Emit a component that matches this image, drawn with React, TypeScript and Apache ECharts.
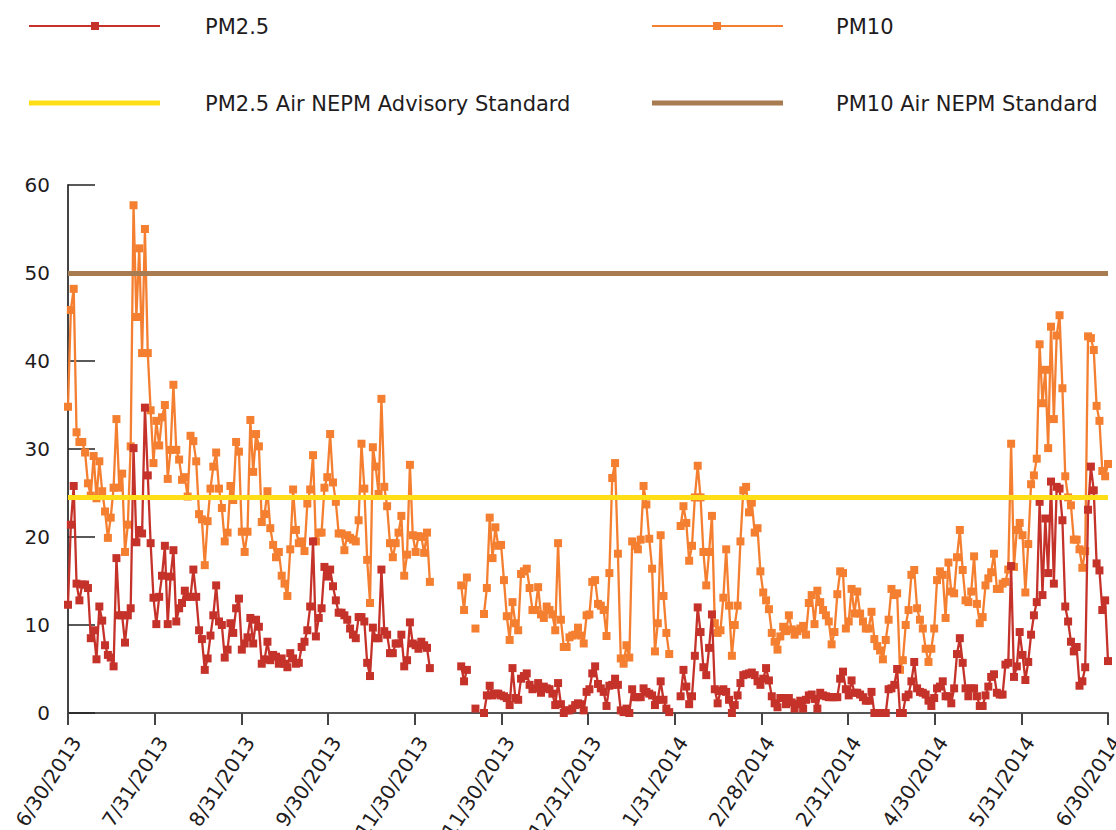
import React, { useEffect, useRef } from "react";
import * as echarts from "echarts";

const tickLabels = [
  "6/30/2013", "7/31/2013", "8/31/2013", "9/30/2013", "11/30/2013", "11/30/2013",
  "12/31/2013", "1/31/2014", "2/28/2014", "2/31/2014", "4/30/2014", "5/31/2014", "6/30/2014",
];

// Daily PM2.5, 30 Jun 2013 - 4 Nov 2013
const pm25Part1 = [
  12.3, 21.4, 25.8, 14.7, 12.8, 14.6, 14.6, 14.2, 8.5, 9.4, 6.1, 12.1, 10.5, 7.7, 6.6, 6.3, 5.3, 17.6, 11.1, 11.1, 8, 11.1, 11.9,
  30.1, 19.4, 20.8, 20.4, 34.7, 27,
  19.3, 13.1, 10.1, 13.2, 15.6, 19, 10.1, 15.5, 18.5, 10.4, 11.9, 12.5, 13.9, 13.2, 13.2, 16.3, 13.2, 9.4, 8.4, 4.9,
  6.2, 8.8, 11.1, 14.5, 10.4, 10, 6.3, 7.2, 10.2, 9.1, 11.9, 13, 7.2, 7.9, 8.6, 10.8, 7.9, 10.6, 9.8, 5.6,
  6.1, 8.1, 6, 6.6, 6.4, 5.6, 6.2, 5.6, 5.2, 6.8, 6.2, 5.6, 5.7, 7.5, 8.1, 9.4, 12.1, 19.5,
  8.7, 10.8, 11.9, 16.6, 15.5, 16.3, 14.4, 12.8, 11.4, 11.4, 11.1, 10.6, 9.6, 8.9, 8.5, 10.9, 10.9, 10.4, 5.7, 4.2,
  9.7, 8.5, 8.5, 16.3, 9.3, 8.9, 6.8, 6.8, 7.9, 7.9, 8.9, 5.3,
  6, 10.3, 7.9, 7.7, 7.3, 8.1, 7.7, 7.4, 5.1,
];
const pm25Gap = [null, null, null, null, null, null, null, null, null, null];
// Daily PM2.5, 15 Nov 2013 - 30 Jun 2014
const pm25Part2 = [
  5.3, 3.6, 4.9, null, null, 0.5, null, null,
  0, 2, 3.1, 2, 2.2, 2.2, 2, 1.9, 1.7, 0.9, 5.1, 1.7, 1.5, 3.9, 4.2, 4.5, 3.2, 2.7, 2.8, 3.4,
  2.3, 3, 2.8, 2.7, 2.2, 0.9, 3.4, 1, 0, 0.3, 0.3, 0.5, 0.9, 1.1, 1, 0.3, 2.4, 2.7, 4.5, 5.3,
  3.3, 2.8, 2.4, 0.8, 3.1, 3.2, 3.9, 3.2, 0.3, 0.1, 0.5, 0, 2.7,
  1.8, 1.8, 1.8, 2.8, 2.4, 2.2, 2, 0.9, 1.5, 3.6, 1.5, 0.5, 0.1,
  null, null, null,
  1.9, 4.9, 3, 1, 1.9, 6.5, 12, 9.2, 5.2, 4.3, 7.4, 11.2, 2.7, 1.1, 2.5, 2.7, 2.4, 1.5, 0, 0.9,
  2, 3.4, 4.3, 4.4, 4.5, 4.6, 4.3, 3.6, 3.2, 3.9, 5.1, 3.7, 1.9, 1.1, 0.65, 1.7, 1.7, 1, 1.7, 1.2,
  0.5, 1, 1.4, 0.5, 1.5, 2, 2.1, 1.6, 0.5, 2.3, 2, 1.9, 1.8, 1.8, 1.8, 1.8, 3.9, 4.7, 2.7, 2,
  3.7, 2.3, 2.3, 2.1, 1.8, 1.4, 1.4, 2.4, 0, 0, 0, 0, 0, 2.7, 2.8, 3.2, 5, 0, 0, 1.8,
  2.1, 3.6, 5.8, 2.8, 2.4, 2.3, 2.1, 1.4, 0.8, 1.7, 2.8, 3, 3.6, 1.9, 1.9, 1.1, 2.8, 6.7, 8.5, 5.7,
  2.8, 1.9, 2.8, 2.8, 1.9, 0.8, 0.8, 2, 3, 4.1, 4.4, 2.3, 2.1, 2.1, 5.5, 5.7, 16.7, 4.1, 5.3, 9.2,
  6.6, 3.75, 5.8, 8.9, 11.1, 12.6, 24, 13.4, 22.1, 15.9, 26.3, 14.7, 25.7, 25.5, 21.9, 12.1, 10.4, 8.1, 7, 7.5,
  3.1, 3.6, 5.2, 23.1, 28, 25.3, 17, 16.2, 11.7, 12.8, 5.9,
];

// Daily PM10, 30 Jun 2013 - 4 Nov 2013
const pm10Part1 = [
  34.8, 45.8, 48.2, 31.9, 30.8, 30.8, 29.6, 26.1, 24.7, 29.2, 24.4, 28.6, 25.2, 22.9, 19.9, 22.2, 25.6, 33.4, 25.6, 27.2, 18.3, 21.4, 30.3,
  57.7, 45, 52.8, 40.9, 55, 40.9,
  34.4, 28.4, 33.2, 30.4, 33.6, 35, 26.6, 29.9, 37.3, 29.9, 28.8, 26.5, 26.8, 24.6, 31.5, 30.9, 28.6, 22.6, 22, 16.8,
  21.8, 25.5, 28, 29.6, 25.5, 23.3, 19.5, 20.5, 25.8, 24.2, 30.8, 29.7, 20.6, 18.3, 20.6, 33.3, 27.4, 31.7, 30.3, 21.7,
  22.6, 25.2, 21, 19.1, 17.7, 18.3, 15.6, 14.7, 13.3, 18.6, 25.4, 20.8, 19.3, 19.5, 18.4, 23.8, 25.4, 29.3,
  19.5, 20.5, 20.5, 25.6, 26.8, 31.7, 26.2, 24, 20.4, 20.4, 18.5, 20.2, 19.9, 19.7, 19.5, 21.9, 30.6, 25.5, 17.4, 12.5,
  30.2, 28, 24.9, 35.7, 25.7, 23.5, 19.3, 17.7, 19.3, 20.5, 22.4, 15.6,
  18, 28.2, 20.2, 18.3, 20.1, 20, 18.2, 20.5, 14.9,
];
const pm10Gap = [null, null, null, null, null, null, null, null, null, null];
// Daily PM10, 15 Nov 2013 - 30 Jun 2014
const pm10Part2 = [
  14.5, 11.7, 15.4, null, null, 9.6, null, null,
  11.25, 14.2, 22.2, 17.6, 21.1, 19, 19.1, 15.1, 11, 8.3, 12.6, 10.2, 9.4, 15.8, 16.1, 16.4, 14.2, 11.7, 11.7, 14.3,
  11.2, 10.8, 12.1, 11.7, 11.2, 9.4, 19.3, 10.6, 7.5, 7.5, 8.6, 8.8, 8.9, 9.7, 8.8, 7.9, 11.1, 11.2, 14.9, 15.1,
  12.4, 12.2, 11.7, 8.75, 15.9, 26.7, 28.4, 18.1, 6.2, 5.6, 7.7, 6.3, 19.5,
  19, 18.6, 19.7, 25.8, 23.7, 19.8, 16.4, 7, 10.2, 20.2, 13.3, 9.1, 6.7,
  null, null, null,
  21.25, 23.5, 21.6, 17.3, 19, 24.5, 28.1, 24.5, 18.3, 14.5, 18.3, 22.4, 10.2, 9.1, 9.4, 13.1, 18.6, 12.2, 6.5, 10,
  12.2, 19.5, 25.3, 25.7, 22.8, 23.9, 20.5, 21, 16.1, 13.7, 12.8, 11.8, 9.1, 8.1, 7.2, 8.7, 9.8, 9.3, 11.1, 9.5,
  8.9, 9.3, 9.6, 9.9, 8.9, 12.5, 13.4, 10.1, 13.9, 12.6, 11.7, 11.1, 10.4, 7.8, 9.2, 13.5, 16.1, 15.9, 9.6, 10.4,
  14.1, 11.3, 13.8, 11.3, 10.4, 9.6, 9.6, 11.5, 8.4, 7.6, 7.1, 6.1, 8.3, 10.6, 14.1, 13.4, 13.6, 4.9, 6, 10,
  11.7, 15.7, 16.25, 11.9, 10.6, 9.6, 7.3, 5.8, 7.3, 9.6, 15.1, 16.1, 15.7, 10.8, 17.1, 13.8, 13.6, 17.7, 20.8, 16.25,
  12.8, 12.6, 13.8, 17.8, 12.4, 10.2, 10.9, 14.5, 15.3, 16, 18.1, 14.1, 14.1, 14.7, 14.9, 16.3, 30.6, 16.6, 20.8, 21.6,
  20.2, 13.7, 19.2, 26, 27, 28.9, 41.9, 35.2, 39, 30.1, 43.9, 33.4, 42.9, 45.2, 36.9, 26.9, 24.5, 23.6, 19.7, 19.7,
  18.6, 16.5, 18.4, 42.8, 42.6, 41.25, 34.9, 33.2, 27.5, 26.9, 28.3,
];

const pm25AdvisoryStandard = 24.5;
const pm10Standard = 50;

const pm25 = [...pm25Part1, ...pm25Gap, ...pm25Part2];
const pm10 = [...pm10Part1, ...pm10Gap, ...pm10Part2];

const RED = "#C5322A";
const ORANGE = "#F47F30";
const YELLOW = "#FFDE17";
const BROWN = "#A87B50";
const FONT = "'DejaVu Sans', sans-serif";
const TEXT = "#1f1c1d";

export default function App() {
  const ref = useRef<HTMLDivElement>(null);

  useEffect(() => {
    document.body.style.margin = "0";
    if (!ref.current) return;
    const chart = echarts.init(ref.current, null, { renderer: "svg" });
    const days = pm10.map((_, i) => {
      const d = new Date(2013, 5, 30 + i);
      return `${d.getMonth() + 1}/${d.getDate()}/${d.getFullYear()}`;
    });

    const legendText = (x: number, y: number, text: string) => ({
      type: "text",
      x,
      y,
      style: {
        text,
        fontSize: 21,
        fontFamily: FONT,
        fill: TEXT,
        verticalAlign: "middle",
        align: "left",
      },
    });

    const lineSeries = (name: string, data: (number | null)[], color: string, z: number) => ({
      name,
      type: "line",
      xAxisIndex: 0,
      data,
      symbol: "rect",
      symbolSize: 8,
      showSymbol: true,
      showAllSymbol: true,
      connectNulls: false,
      lineStyle: { color, width: 2.3 },
      itemStyle: { color },
      z,
    });

    chart.setOption({
      animation: false,
      backgroundColor: "#ffffff",
      grid: { left: 68, right: 8, top: 185, bottom: 117, containLabel: false, outerBoundsMode: "none" },
      xAxis: [
        {
          type: "category",
          data: days,
          boundaryGap: false,
          axisLine: { show: false },
          axisTick: { show: false },
          axisLabel: { show: false },
          splitLine: { show: false },
        },
        {
          type: "value",
          min: 0,
          max: 12,
          interval: 1,
          position: "bottom",
          axisLine: { show: true, onZero: false, lineStyle: { color: "#555", width: 2 } },
          axisTick: { show: true, length: 12, lineStyle: { color: "#444", width: 2 } },
          splitLine: { show: false },
          axisLabel: {
            rotate: 57,
            margin: 20,
            fontSize: 20,
            color: TEXT,
            fontFamily: FONT,
            verticalAlign: "top",
            formatter: (v: number) => tickLabels[Math.round(v)] ?? "",
          },
        },
      ],
      yAxis: {
        type: "value",
        min: 0,
        max: 60,
        interval: 10,
        axisLine: { show: true, onZero: false, lineStyle: { color: "#444", width: 2 } },
        axisTick: { show: true, inside: true, length: 27, lineStyle: { color: "#222", width: 1.5 } },
        splitLine: { show: false },
        axisLabel: { margin: 18, fontSize: 20, color: TEXT, fontFamily: FONT, padding: [18, 0, 0, 0] },
      },
      series: [
        lineSeries("PM10", pm10, ORANGE, 2),
        {
          ...lineSeries("PM2.5", pm25, RED, 3),
          markLine: {
            silent: true,
            symbol: "none",
            label: { show: false },
            z: 6,
            data: [
              { name: "PM2.5 Air NEPM Advisory Standard", yAxis: pm25AdvisoryStandard, lineStyle: { color: YELLOW, width: 5, type: "solid" } },
              { name: "PM10 Air NEPM Standard", yAxis: pm10Standard, lineStyle: { color: BROWN, width: 5, type: "solid" } },
            ],
          },
        },
      ],
      graphic: [
        { type: "line", shape: { x1: 29, y1: 26, x2: 160, y2: 26 }, style: { stroke: RED, lineWidth: 2 } },
        { type: "rect", shape: { x: 91, y: 22, width: 8, height: 8 }, style: { fill: RED } },
        legendText(205, 27, "PM2.5"),
        { type: "line", shape: { x1: 652, y1: 26, x2: 783, y2: 26 }, style: { stroke: ORANGE, lineWidth: 2 } },
        { type: "rect", shape: { x: 713, y: 22, width: 8, height: 8 }, style: { fill: ORANGE } },
        legendText(836, 27, "PM10"),
        { type: "line", shape: { x1: 29, y1: 103, x2: 160, y2: 103 }, style: { stroke: YELLOW, lineWidth: 5 } },
        legendText(205, 104, "PM2.5 Air NEPM Advisory Standard"),
        { type: "line", shape: { x1: 652, y1: 103, x2: 783, y2: 103 }, style: { stroke: BROWN, lineWidth: 5 } },
        legendText(836, 104, "PM10 Air NEPM Standard"),
      ],
    });

    return () => chart.dispose();
  }, []);

  return <div ref={ref} style={{ width: 1116, height: 830 }} />;
}
